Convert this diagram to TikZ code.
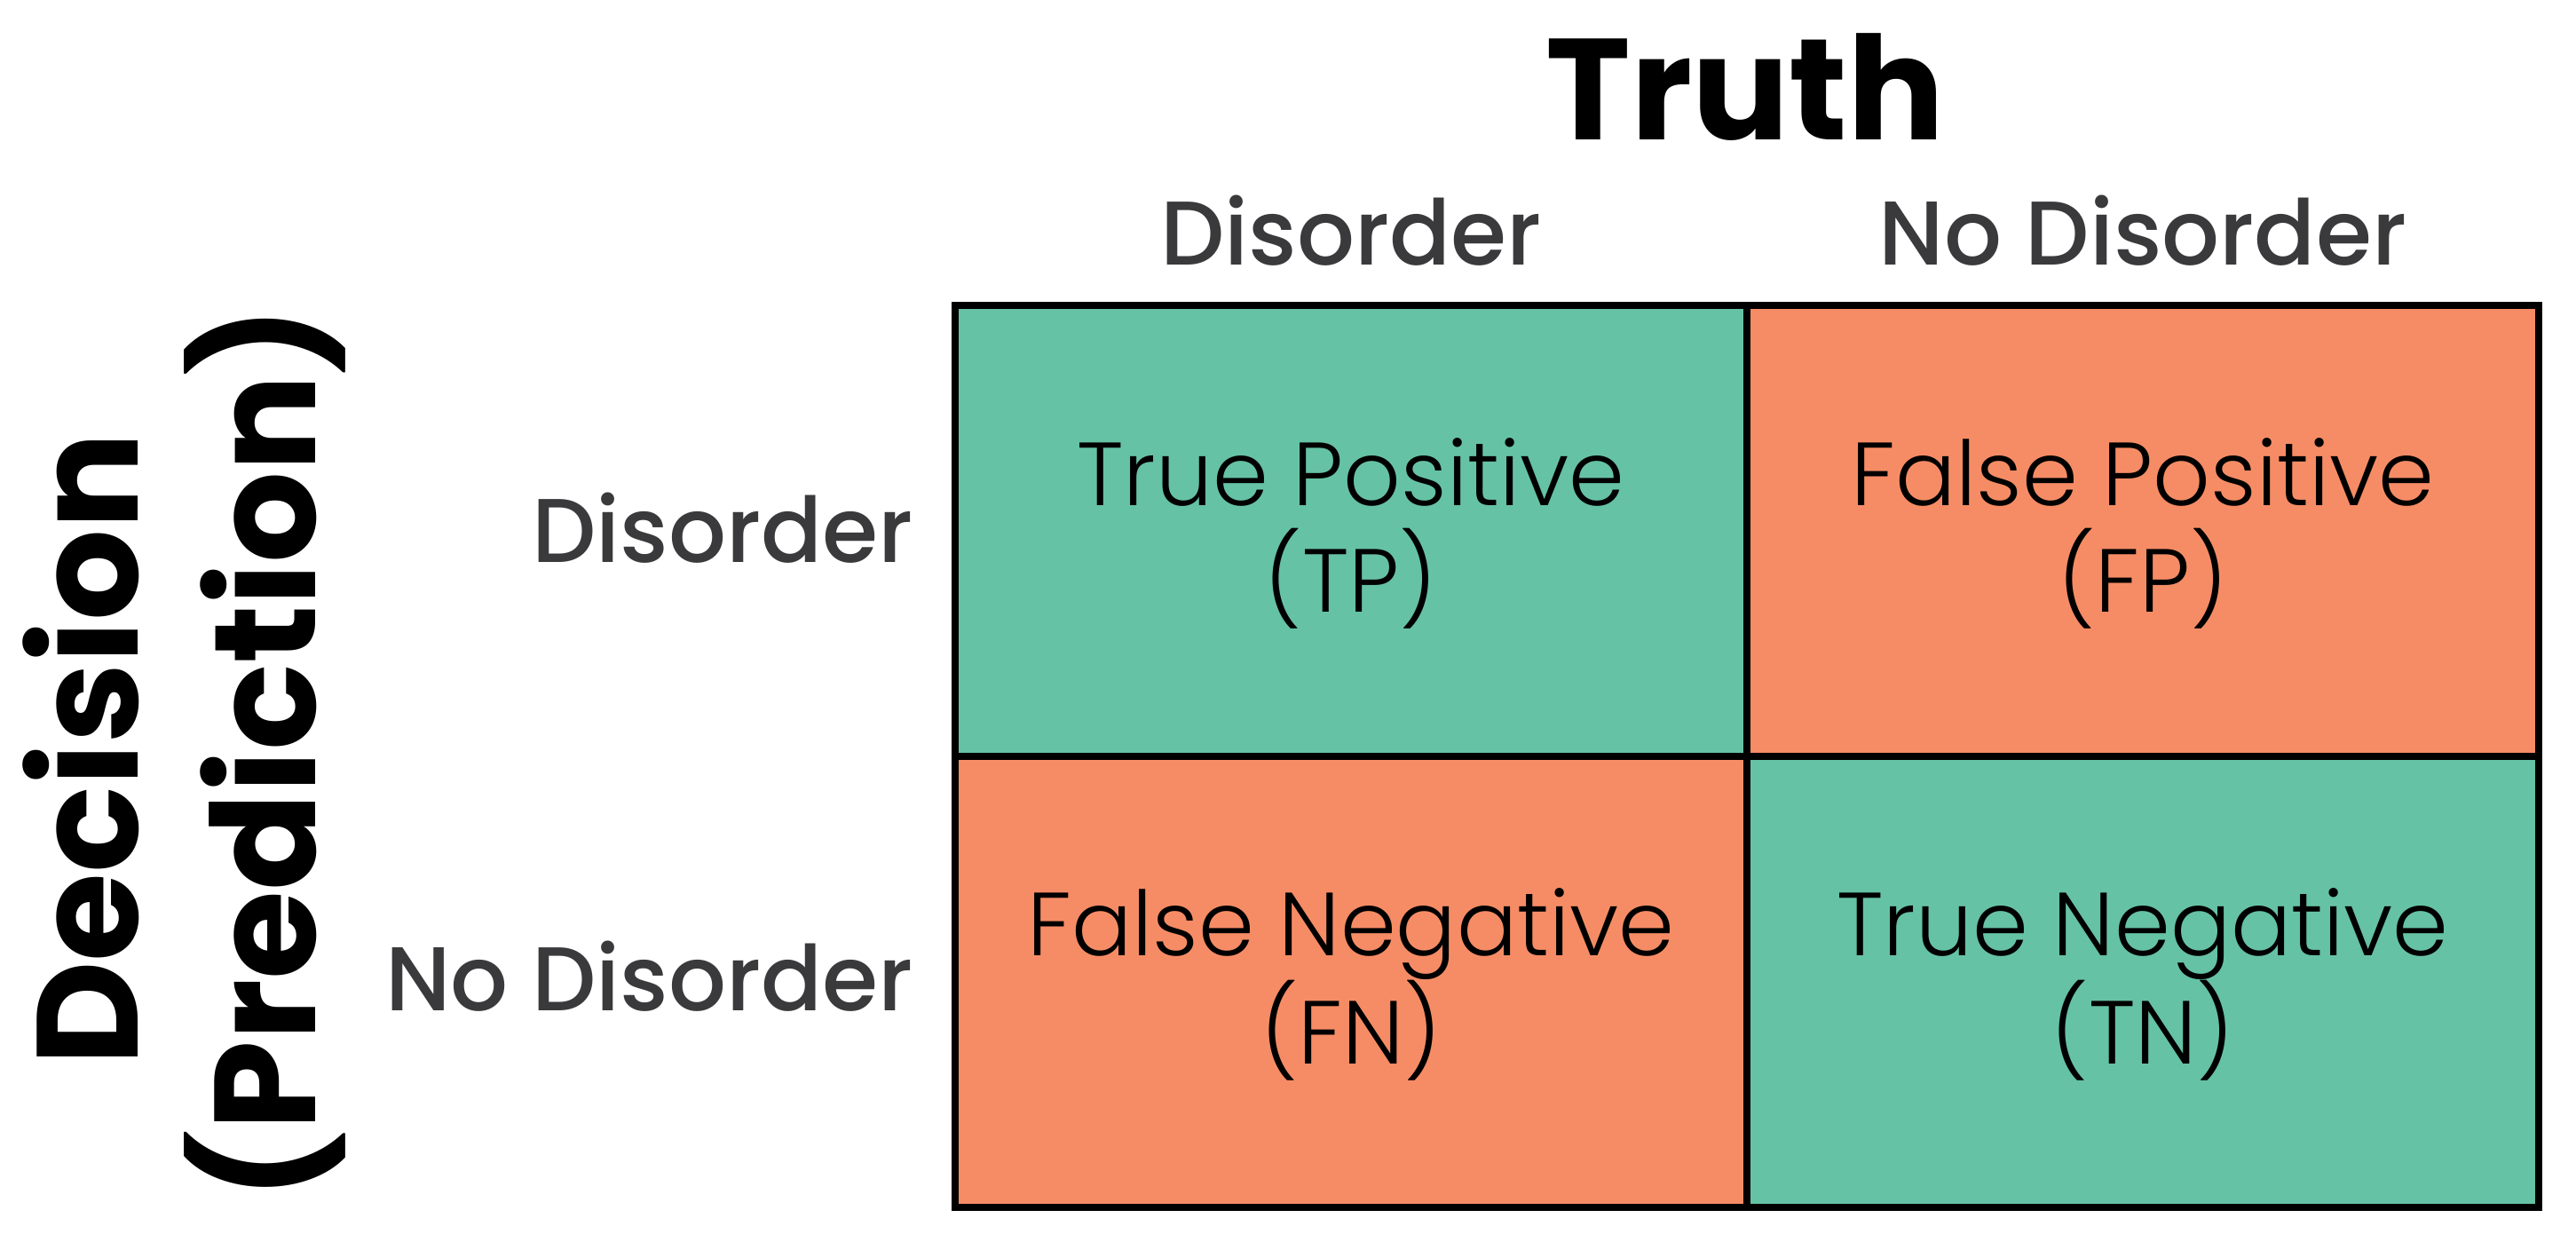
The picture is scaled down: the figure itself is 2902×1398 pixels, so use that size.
\documentclass[tikz,border=0pt]{standalone}
\usepackage{fontspec}
\setmainfont{Poppins}
\newfontfamily\cellfont{Poppins Light}
\newfontfamily\labelfont{Poppins Medium}
\definecolor{tpgreen}{HTML}{66C2A5}
\definecolor{fporange}{HTML}{F68C65}
\definecolor{labelgray}{HTML}{3A3A3C}
\begin{document}
\begin{tikzpicture}[x=1pt,y=-1pt,
  cell/.style={draw=black, line width=8pt, minimum width=892pt, minimum height=508pt, inner sep=0pt, outer sep=0pt},
  celltext/.style={align=center, font=\cellfont\fontsize{101}{120}\selectfont, text=black},
  collabel/.style={font=\labelfont\fontsize{102}{120}\selectfont, text=labelgray, anchor=base, inner sep=0pt},
  rowlabel/.style={font=\labelfont\fontsize{102}{120}\selectfont, text=labelgray, anchor=base east, inner sep=0pt},
  title/.style={font=\fontsize{162}{180}\selectfont\bfseries, text=black, inner sep=0pt}
]
\path[use as bounding box, fill=white] (0,0) rectangle (2902,1398);
\node[cell, fill=tpgreen] (tp) at (1522,598) {};
\node[cell, fill=fporange] (fp) at (2414,598) {};
\node[cell, fill=fporange] (fn) at (1522,1106) {};
\node[cell, fill=tpgreen] (tn) at (2414,1106) {};
\node[celltext] (tpt) at ([yshift=-3pt]tp.center) {True Positive\\(TP)};
\node[celltext] (fpt) at ([yshift=-3pt]fp.center) {False Positive\\(FP)};
\node[celltext] (fnt) at ([yshift=-3pt]fn.center) {False Negative\\(FN)};
\node[celltext] (tnt) at ([yshift=-3pt]tn.center) {True Negative\\(TN)};
\node[collabel] (cd) at (1522,298) {Disorder};
\node[collabel] (cnd) at (2414,298) {No Disorder};
\node[rowlabel] (rd) at (1029,633) {Disorder};
\node[rowlabel] (rnd) at (1029,1138) {No Disorder};
\node[title, anchor=base] (truth) at (1966,157) {Truth};
\node[title, rotate=90, anchor=base west] (dec) at (155,1201) {Decision};
\node[title, rotate=90, anchor=base] (pred) at (355,848) {(Prediction)};
\end{tikzpicture}
\end{document}
